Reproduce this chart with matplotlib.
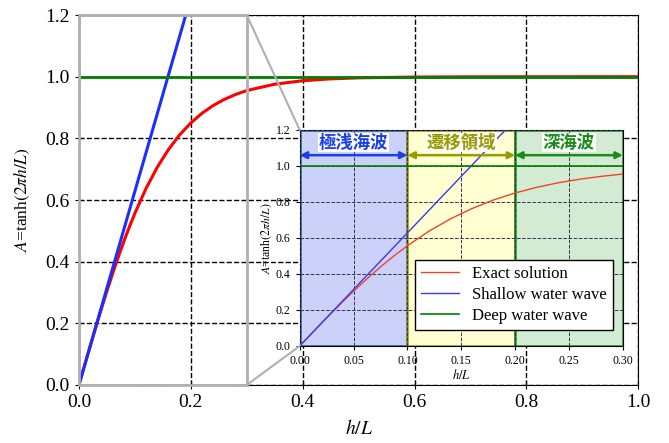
import numpy as np
import matplotlib
matplotlib.use("Agg")
import matplotlib.pyplot as plt
from matplotlib.patches import Rectangle, ConnectionPatch
from matplotlib.ticker import FormatStrFormatter

plt.rcParams['font.family'] = ['Liberation Serif', 'DejaVu Serif']
plt.rcParams['mathtext.fontset'] = 'stix'

# exact solution
exact_h = [0.0, 0.01, 0.02, 0.03, 0.04, 0.05, 0.06, 0.07, 0.08, 0.09, 0.10,
           0.12, 0.14, 0.16, 0.18, 0.20, 0.22, 0.24, 0.26, 0.28, 0.30,
           0.35, 0.40, 0.45, 0.50, 0.60, 0.70, 0.80, 0.90, 1.00]
exact_A = [0.0, 0.0627, 0.1250, 0.1863, 0.2462, 0.3042, 0.3600, 0.4133, 0.4641, 0.5120, 0.5569,
           0.6378, 0.7063, 0.7637, 0.8114, 0.8500, 0.8814, 0.9066, 0.9265, 0.9424, 0.9551,
           0.9757, 0.9870, 0.9930, 0.9963, 0.9989, 0.9997, 0.9999, 1.0, 1.0]
shallow_h = [0.0, 0.2]
shallow_A = [0.0, 1.2566]
deep_h = [0.0, 1.0]
deep_A = [1.0, 1.0]

zones = ["極浅海波", "遷移領域", "深海波"]
zone_edges = [0.0, 0.1, 0.2, 0.3]
zone_face = ["#ccd1f9", "#ffffd1", "#d3ebd3"]
zone_edge = ["#1f5f9f", "#8f8f1f", "#1f8f1f"]
zone_text = ["#1a3ee8", "#999900", "#1a8c1a"]

fig = plt.figure(figsize=(6.69, 4.43), dpi=100)
ax = fig.add_axes([0.118, 0.131, 0.836, 0.835])

ax.plot(exact_h, exact_A, color='red', lw=2.2)
ax.plot(shallow_h, shallow_A, color='#1a2fff', lw=2.2)
ax.plot(deep_h, deep_A, color='green', lw=2.0)
ax.set_xlim(0, 1)
ax.set_ylim(0, 1.2)
ax.set_xticks(np.arange(0, 1.01, 0.2))
ax.set_yticks(np.arange(0, 1.21, 0.2))
ax.xaxis.set_major_formatter(FormatStrFormatter('%.1f'))
ax.yaxis.set_major_formatter(FormatStrFormatter('%.1f'))
ax.grid(True, color='black', ls='--', lw=1)
ax.tick_params(direction='inout', labelsize=14, length=6)
ax.set_xlabel(r'$h/L$', fontsize=14, labelpad=6)
ax.set_ylabel(r'$A$=tanh$(2\pi h/L)$', fontsize=12.5, labelpad=10)

# inset
axins = fig.add_axes([0.448, 0.219, 0.483, 0.4876])
axins.plot(exact_h, exact_A, color='#f0442a', lw=1, label='Exact solution', zorder=3)
axins.plot(shallow_h, shallow_A, color='#3a3af0', lw=1, label='Shallow water wave', zorder=3)
axins.plot(deep_h, deep_A, color='green', lw=1.2, label='Deep water wave', zorder=3)
for i, name in enumerate(zones):
    x0, x1 = zone_edges[i], zone_edges[i + 1]
    axins.add_patch(Rectangle((x0, 0), x1 - x0, 1.2, facecolor=zone_face[i],
                              edgecolor=zone_edge[i], lw=1.8, zorder=1))
    axins.annotate('', xy=(x0, 1.06), xytext=(x1, 1.06),
                   arrowprops=dict(arrowstyle='<|-|>', color=zone_text[i], lw=1.8,
                                   mutation_scale=10, shrinkA=0, shrinkB=0), zorder=4)
    axins.text((x0 + x1) / 2, 1.13, name, ha='center', va='center', fontsize=12.5,
               fontweight='bold', color=zone_text[i], family=['Noto Sans CJK JP', 'DejaVu Sans'],
               bbox=dict(facecolor='white', edgecolor='none', pad=0.5), zorder=5)
axins.set_xlim(0, 0.3)
axins.set_ylim(0, 1.2)
axins.set_xticks(np.arange(0, 0.301, 0.05))
axins.set_yticks(np.arange(0, 1.21, 0.2))
axins.xaxis.set_major_formatter(FormatStrFormatter('%.2f'))
axins.yaxis.set_major_formatter(FormatStrFormatter('%.1f'))
axins.grid(True, color='#333355', ls='--', lw=0.7, zorder=2)
axins.set_axisbelow(False)
axins.tick_params(direction='out', labelsize=8.5, length=3)
axins.set_xlabel(r'$h/L$', fontsize=9, labelpad=1)
axins.set_ylabel(r'$A$=tanh$(2\pi h/L)$', fontsize=8.5, labelpad=1)
leg = axins.legend(loc='lower right', fontsize=12, fancybox=False, framealpha=1,
                   edgecolor='black', borderaxespad=0.6, handlelength=2.3,
                   labelspacing=0.3, borderpad=0.35, bbox_to_anchor=(1.0, 0.03))
leg.set_zorder(6)

# zoom indicator
ax.add_patch(Rectangle((0, 0), 0.3, 1.2, fill=False, edgecolor='#b0b0b0', lw=2, zorder=5, clip_on=False))
for yy, fy in [(1.2, 1), (0.0, 0)]:
    con = ConnectionPatch(xyA=(0.3, yy), coordsA=ax.transData, xyB=(0, fy),
                          coordsB=axins.transAxes, color='#b0b0b0', lw=1.5)
    fig.add_artist(con)

fig.savefig('out.png', dpi=100)
